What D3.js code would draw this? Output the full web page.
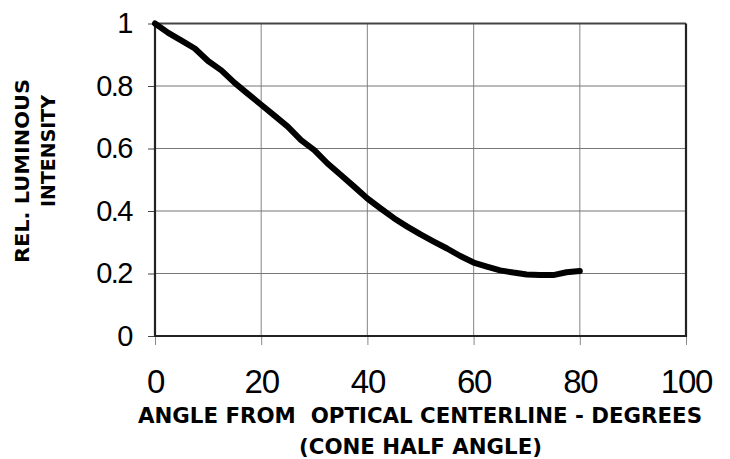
<!DOCTYPE html>
<html><head><meta charset="utf-8">
<script src="https://cdn.jsdelivr.net/npm/d3@7"></script>
<style>html,body{margin:0;padding:0;background:#fff;}svg{display:block;}</style>
</head><body>
<svg id="c" width="730" height="459"></svg>
<script>
const angles = [0,2.5,5,7.5,10,12.5,15,17.5,20,22.5,25,27.5,30,32.5,35,37.5,40,42.5,45,47.5,50,52.5,55,57.5,60,62.5,65,67.5,70,72.5,75,77.5,80];
const intensity = [1.0,0.97,0.945,0.92,0.88,0.85,0.81,0.775,0.74,0.705,0.67,0.627,0.595,0.552,0.515,0.478,0.44,0.408,0.377,0.35,0.325,0.302,0.28,0.256,0.235,0.222,0.21,0.203,0.197,0.195,0.195,0.204,0.208];
const xTicks = [0,20,40,60,80,100];
const yTicks = [0,0.2,0.4,0.6,0.8,1];
const xTitle1 = "ANGLE FROM  OPTICAL CENTERLINE - DEGREES";
const xTitle2 = "(CONE HALF ANGLE)";
const yTitle1 = "REL. LUMINOUS";
const yTitle2 = "INTENSITY";

const svg = d3.select("#c");
const L=155, R=686, T=23.5, B=336;
const x = d3.scaleLinear().domain([0,100]).range([L,R]);
const y = d3.scaleLinear().domain([0,1]).range([B,T]);

// gridlines
svg.append("g").selectAll("line").data(xTicks.slice(1,-1)).join("line")
  .attr("x1",d=>x(d)).attr("x2",d=>x(d)).attr("y1",T).attr("y2",B)
  .attr("stroke","#999").attr("stroke-width",1.2);
svg.append("g").selectAll("line").data(yTicks.slice(1)).join("line")
  .attr("x1",L).attr("x2",R).attr("y1",d=>y(d)).attr("y2",d=>y(d))
  .attr("stroke","#777").attr("stroke-width",1.2);

// axes
const xAxis = d3.axisBottom(x).tickValues(xTicks).tickSize(9).tickPadding(25).tickFormat(d3.format("d"));
const gx = svg.append("g").attr("transform",`translate(0,${B})`).call(xAxis);
gx.select(".domain").remove();
gx.selectAll(".tick line").attr("stroke","#888").attr("stroke-width",1);
gx.selectAll("text").attr("font-family","Liberation Sans Narrow, Liberation Sans, Arial, sans-serif")
  .attr("font-size",33).attr("fill","#000").attr("letter-spacing","-1.2");

const yAxis = d3.axisLeft(y).tickValues(yTicks).tickSize(7).tickPadding(16).tickFormat(d=>d===0||d===1?String(d):d3.format(".1f")(d));
const gy = svg.append("g").attr("transform",`translate(${L},0)`).call(yAxis);
gy.select(".domain").remove();
gy.selectAll(".tick line").attr("stroke","#444").attr("stroke-width",1);
gy.selectAll("text").attr("font-family","Liberation Sans, Arial, sans-serif")
  .attr("font-size",29).attr("fill","#000").attr("letter-spacing","-1.5");

// plot border
svg.append("line").attr("x1",L).attr("x2",R).attr("y1",T).attr("y2",T).attr("stroke","#444").attr("stroke-width",1.8);
svg.append("path").attr("d",`M${L},${T}V${B}H${R}V${T}`).attr("fill","none").attr("stroke","#222").attr("stroke-width",2.2);

// curve
const line = d3.line().x((d,i)=>x(angles[i])).y(d=>y(d)).curve(d3.curveLinear);
svg.append("path").datum(intensity).attr("d",line).attr("fill","none")
  .attr("stroke","#000").attr("stroke-width",6).attr("stroke-linejoin","round").attr("stroke-linecap","round");

// titles
const tf = "DejaVu Sans, Liberation Sans, Arial, sans-serif";
svg.append("text").attr("x",138).attr("y",423)
  .attr("font-family",tf).attr("font-weight","bold").attr("font-size",21).attr("fill","#000")
  .attr("textLength",564).attr("lengthAdjust","spacingAndGlyphs").style("white-space","pre").text(xTitle1);
svg.append("text").attr("x",299).attr("y",454)
  .attr("font-family",tf).attr("font-weight","bold").attr("font-size",21).attr("fill","#000")
  .attr("textLength",243).attr("lengthAdjust","spacingAndGlyphs").text(xTitle2);
svg.append("text").attr("transform","translate(28.5,263) rotate(-90)")
  .attr("font-family",tf).attr("font-weight","bold").attr("font-size",19).attr("fill","#000")
  .attr("textLength",184).attr("lengthAdjust","spacingAndGlyphs").text(yTitle1);
svg.append("text").attr("transform","translate(55,207) rotate(-90)")
  .attr("font-family",tf).attr("font-weight","bold").attr("font-size",19).attr("fill","#000")
  .attr("textLength",112).attr("lengthAdjust","spacingAndGlyphs").text(yTitle2);
</script>
</body></html>
